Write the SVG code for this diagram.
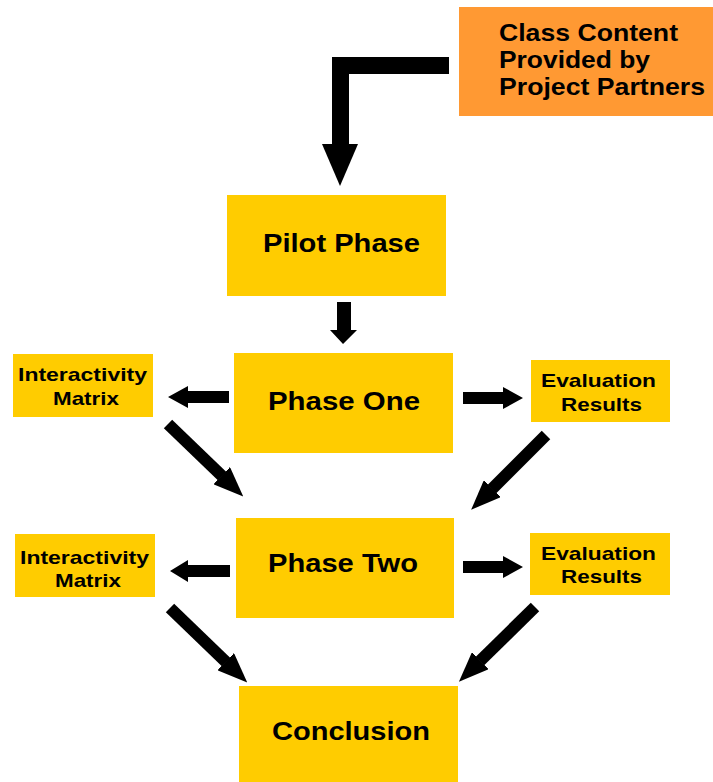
<svg xmlns="http://www.w3.org/2000/svg" width="713" height="782" viewBox="0 0 713 782">
<style>
.box{fill:#FFCC00}
.src{fill:#FF9933}
text{font-family:"Liberation Sans",Arial,sans-serif;font-weight:bold;fill:#000}
.big{font-size:26px}
.mid{font-size:24px}
.sm{font-size:19px}
.arr{fill:#000}
.dl{stroke:#000;stroke-width:12;fill:none;marker-end:url(#head)}
</style>
<defs>
<marker id="head" markerUnits="userSpaceOnUse" markerWidth="30" markerHeight="24" viewBox="0 0 30 24" refX="0.5" refY="12" orient="auto">
<path d="M0,0 L30,12 L0,24 z" fill="#000"/>
</marker>
</defs>
<rect width="713" height="782" fill="#fff"/>
<g id="source">
<rect class="src" x="459" y="7" width="254" height="109"/>
<text class="mid" x="499" y="41" textLength="179" lengthAdjust="spacingAndGlyphs">Class Content</text>
<text class="mid" x="499" y="68" textLength="151" lengthAdjust="spacingAndGlyphs">Provided by</text>
<text class="mid" x="499" y="95" textLength="206" lengthAdjust="spacingAndGlyphs">Project Partners</text>
</g>
<g id="pilot">
<rect class="box" x="227" y="195" width="219" height="101"/>
<text class="big" x="263" y="252" textLength="157" lengthAdjust="spacingAndGlyphs">Pilot Phase</text>
</g>
<g id="phase-one">
<rect class="box" x="234" y="353" width="219" height="100"/>
<text class="big" x="268" y="410" textLength="152" lengthAdjust="spacingAndGlyphs">Phase One</text>
</g>
<g id="matrix-1">
<rect class="box" x="13" y="354" width="140" height="63"/>
<text class="sm" x="18" y="381" textLength="129" lengthAdjust="spacingAndGlyphs">Interactivity</text>
<text class="sm" x="53" y="405" textLength="66" lengthAdjust="spacingAndGlyphs">Matrix</text>
</g>
<g id="eval-1">
<rect class="box" x="531" y="360" width="139" height="62"/>
<text class="sm" x="541" y="387" textLength="115" lengthAdjust="spacingAndGlyphs">Evaluation</text>
<text class="sm" x="561" y="411" textLength="81" lengthAdjust="spacingAndGlyphs">Results</text>
</g>
<g id="phase-two">
<rect class="box" x="236" y="518" width="218" height="100"/>
<text class="big" x="268" y="572" textLength="150" lengthAdjust="spacingAndGlyphs">Phase Two</text>
</g>
<g id="matrix-2">
<rect class="box" x="15" y="534" width="140" height="63"/>
<text class="sm" x="20" y="564" textLength="129" lengthAdjust="spacingAndGlyphs">Interactivity</text>
<text class="sm" x="55" y="587" textLength="66" lengthAdjust="spacingAndGlyphs">Matrix</text>
</g>
<g id="eval-2">
<rect class="box" x="530" y="533" width="140" height="62"/>
<text class="sm" x="541" y="560" textLength="115" lengthAdjust="spacingAndGlyphs">Evaluation</text>
<text class="sm" x="561" y="583" textLength="81" lengthAdjust="spacingAndGlyphs">Results</text>
</g>
<g id="conclusion">
<rect class="box" x="239" y="686" width="219" height="96"/>
<text class="big" x="272" y="740" textLength="158" lengthAdjust="spacingAndGlyphs">Conclusion</text>
</g>
<g id="connectors">
<path d="M449,65.5 H340.5 V145" stroke="#000" stroke-width="17" fill="none"/>
<polygon class="arr" points="322,144 358,144 340,186"/>
<polygon class="arr" points="337,302 351,302 351,330 357,330 343,344 330,330 337,330"/>
<polygon class="arr" points="229,391 188,391 188,386 168,397 188,408 188,403 229,403"/>
<polygon class="arr" points="463,392 503,392 503,387 523,398 503,409 503,404 463,404"/>
<polygon class="arr" points="230,565 188,565 188,560 170,571 188,582 188,577 230,577"/>
<polygon class="arr" points="463,561 503,561 503,556 523,567 503,578 503,573 463,573"/>
<line class="dl" x1="168" y1="424" x2="222" y2="476"/>
<line class="dl" x1="546" y1="435" x2="492" y2="489"/>
<line class="dl" x1="170" y1="608" x2="226" y2="662"/>
<line class="dl" x1="535" y1="607" x2="480" y2="661"/>
</g>
</svg>
